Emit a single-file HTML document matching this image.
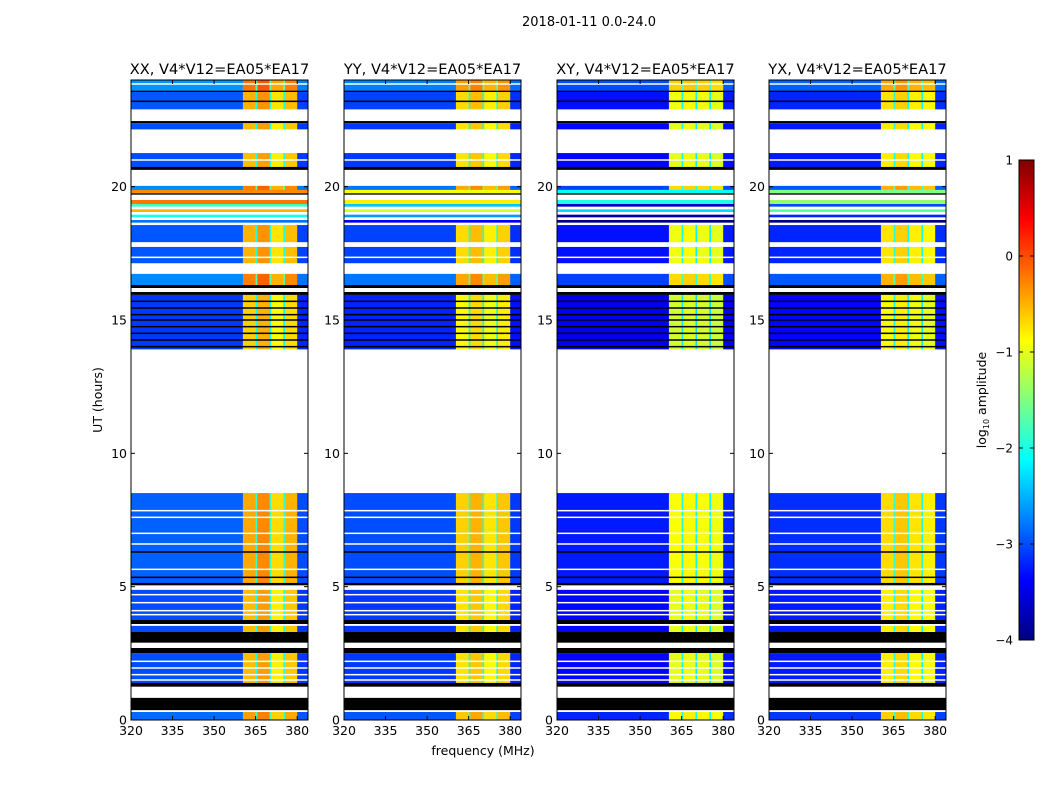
<!DOCTYPE html>
<html><head><meta charset="utf-8"><style>
html,body{margin:0;padding:0;background:#fff;}
svg{display:block;font-family:"DejaVu Sans","Liberation Sans",sans-serif;}
</style></head><body>
<svg id="fig" width="1050" height="800" viewBox="0 0 1050 800">
<defs>
<linearGradient id="jetgrad" x1="0" y1="1" x2="0" y2="0"></linearGradient>
</defs>
<text x="589" y="26" font-size="13" text-anchor="middle">2018-01-11 0.0-24.0</text>
<g id="panels"></g>
<text x="483" y="755" font-size="12.5" text-anchor="middle">frequency (MHz)</text>
<text transform="translate(102,400) rotate(-90)" font-size="12.5" text-anchor="middle">UT (hours)</text>
<g>
<rect x="1019" y="160" width="15" height="480" fill="url(#jetgrad)" stroke="#000" stroke-width="1"/>
<g id="cbticks"></g>
<text transform="translate(986,400) rotate(-90)" font-size="12.5" text-anchor="middle">log<tspan font-size="8" dy="3">10</tspan><tspan dy="-3"> amplitude</tspan></text>
</g>
</svg>
<script>
// ---- data ----
const panelTitles = ["XX, V4*V12=EA05*EA17","YY, V4*V12=EA05*EA17","XY, V4*V12=EA05*EA17","YX, V4*V12=EA05*EA17"];
const freqEdges = [320,360.4,365,365.6,370,370.6,375,375.6,380,384];
const bandXX = [-3.0,-0.55,-2.0,-0.4,-2.0,-0.8,-2.0,-0.6,-3.1];
const bandYY = [-3.1,-0.75,-2.0,-0.6,-2.0,-0.85,-2.0,-0.7,-3.2];
const bandXY = [-3.35,-1.0,-2.1,-0.95,-2.2,-1.0,-2.2,-1.05,-3.3];
const bandYX = [-3.25,-0.8,-2.0,-0.7,-2.1,-0.85,-2.1,-0.9,-3.2];
const stripeOffset = [0,-0.6,-1.8,-1.2];
// row segments: [startHour, endHour, kind, levelOffset]  kind: d=data, k=black, w=white (flagged)
const rowStart = [24.0,23.6,23.55,22.91,22.46,22.38,22.16,21.26,20.74,20.63,20.03,18.56,17.93,17.74,17.14,16.73,16.31,16.2,16.05,15.94,13.91,8.51,5.14,5.05,4.88,3.75,3.6,3.53,3.30,2.9,2.7,2.51,1.39,1.25,0.83,0.37,0.3];
const rowEnd   = [23.6,23.55,22.91,22.46,22.38,22.16,21.26,20.74,20.63,20.03,19.88,17.93,17.74,17.14,16.73,16.31,16.2,16.05,15.94,13.91,8.51,5.14,5.05,4.88,3.75,3.6,3.53,3.30,2.9,2.7,2.51,1.39,1.25,0.83,0.37,0.3,0.0];
const rowKind  = ["d","k","d","w","k","d","w","d","k","w","d","d","w","d","w","d","k","w","k","d","w","d","k","w","d","k","w","d","k","w","k","d","k","w","k","w","d"];
const rowLevel = [0.35,0,0.05,0,0,0,0,0,0,0,0.3,0.05,0,0.05,0,0.3,0,0,0,-0.1,0,0.1,0,0,0,0,0,0,0,0,0,0,0,0,0,0,0.15];
// colourful stripes between 19.88 and 18.56 h (null=white, -5=black)
const stripeStart = [19.88,19.75,19.7,19.5,19.35,19.25,19.15,19.05,18.95,18.85,18.75,18.65];
const stripeEnd   = [19.75,19.7,19.5,19.35,19.25,19.15,19.05,18.95,18.85,18.75,18.65,18.56];
const stripeVal   = [-0.3,-5,null,-0.2,-1.8,null,-0.5,null,-2.0,null,-2.8,null];
const blackLines = [14.0,14.25,14.5,14.75,15.0,15.2,15.45,15.7,6.3,5.35,23.2];
const whiteLines = [7.85,7.6,7.0,6.6,5.65,4.7,4.4,4.1,3.95,2.2,1.95,1.7,1.5,23.85,17.35,21.0];
const xTicks = [320,335,350,365,380];
const yTicks = [0,5,10,15,20];
const cbTicks = [1,0,-1,-2,-3,-4];
// ---- layout ----
const panelX = [131,344,557,769], PW = 177, PT = 80, PH = 640;
const F0 = 320, F1 = 383.9, H0 = 0, H1 = 24;
function xs(i,f){return panelX[i] + (f-F0)/(F1-F0)*PW;}
function ys(h){return PT + PH - (h-H0)/(H1-H0)*PH;}
function jet(v){
  let t=(v+4)/5; t=Math.max(0,Math.min(1,t));
  const c=x=>Math.round(255*Math.max(0,Math.min(1,x)));
  const r=c(Math.min(4*t-1.5,-4*t+4.5)), g=c(Math.min(4*t-0.5,-4*t+3.5)), b=c(Math.min(4*t+0.5,-4*t+2.5));
  return `rgb(${r},${g},${b})`;
}
const NS="http://www.w3.org/2000/svg";
function mk(tag,attrs,parent){const e=document.createElementNS(NS,tag);for(const k in attrs)e.setAttribute(k,attrs[k]);parent.appendChild(e);return e;}
const grad=document.getElementById("jetgrad");
for(let i=0;i<=40;i++){mk("stop",{offset:i/40,"stop-color":jet(-4+5*i/40)},grad);}
const root=document.getElementById("panels");
const bands=[bandXX,bandYY,bandXY,bandYX];
for(let p=0;p<4;p++){
  const g=mk("g",{},root);
  
  
  const t=mk("text",{x:panelX[p]+PW/2,y:74,"font-size":14.6,"text-anchor":"middle"},g);
  t.textContent=panelTitles[p];
  
  
  const hm=mk("g",{},g);
  
  
  for(let r=0;r<rowStart.length;r++){
    const y0=ys(rowStart[r]), y1=ys(rowEnd[r]);
    if(rowKind[r]==="w") continue;
    if(rowKind[r]==="k"){
      const e=mk("rect",{x:xs(p,F0),y:y0,width:PW,height:y1-y0,fill:"#000"},hm);
      
      
      continue;
    }
    for(let b=0;b<bands[p].length;b++){
      const x0=xs(p,freqEdges[b]), x1=xs(p,Math.min(freqEdges[b+1],F1));
      const e=mk("rect",{x:x0,y:y0,width:x1-x0+0.3,height:y1-y0+0.3,fill:jet(bands[p][b]+rowLevel[r])},hm);
      
      
    }
  }
  for(let s=0;s<stripeStart.length;s++){
    if(stripeVal[s]===null) continue;
    const y0=ys(stripeStart[s]), y1=ys(stripeEnd[s]);
    const v=stripeVal[s]===-5?null:stripeVal[s]+stripeOffset[p];
    const e=mk("rect",{x:xs(p,F0),y:y0,width:PW,height:y1-y0,fill:v===null?"#000":jet(v)},hm);
    
    
  }
  blackLines.forEach(h=>{const e=mk("rect",{x:xs(p,F0),y:ys(h)-0.75,width:PW,height:1.5,fill:"#000"},hm);
    
    });
  whiteLines.forEach(h=>{const e=mk("rect",{x:xs(p,F0),y:ys(h)-0.75,width:PW,height:1.5,fill:"#fff"},hm);
    
    });
  const fr=mk("rect",{x:panelX[p],y:PT,width:PW,height:PH,fill:"none",stroke:"#000","stroke-width":1},g);
  
  
  xTicks.forEach(f=>{const x=xs(p,f);
    mk("line",{x1:x,y1:PT+PH,x2:x,y2:PT+PH-4,stroke:"#000"},g);
    mk("line",{x1:x,y1:PT,x2:x,y2:PT+4,stroke:"#000"},g);
    const l=mk("text",{x:x,y:PT+PH+15,"font-size":12.5,"text-anchor":"middle"},g);
    l.textContent=f;
    
    });
  yTicks.forEach(h=>{const y=ys(h);
    mk("line",{x1:panelX[p],y1:y,x2:panelX[p]+4,y2:y,stroke:"#000"},g);
    mk("line",{x1:panelX[p]+PW,y1:y,x2:panelX[p]+PW-4,y2:y,stroke:"#000"},g);
    const l=mk("text",{x:panelX[p]-4,y:y+4.5,"font-size":12.5,"text-anchor":"end"},g);
    l.textContent=h;
    
    });
}
const cb=document.getElementById("cbticks");
cbTicks.forEach(v=>{const y=160+(1-v)/5*480;
  mk("line",{x1:1019,y1:y,x2:1023,y2:y,stroke:"#000"},cb);
  mk("line",{x1:1034,y1:y,x2:1030,y2:y,stroke:"#000"},cb);
  const l=mk("text",{x:1013,y:y+4.5,"font-size":12,"text-anchor":"end"},cb);
  l.textContent=v<0?"\u2212"+(-v):String(v);
  
  });
</script>
</body></html>
